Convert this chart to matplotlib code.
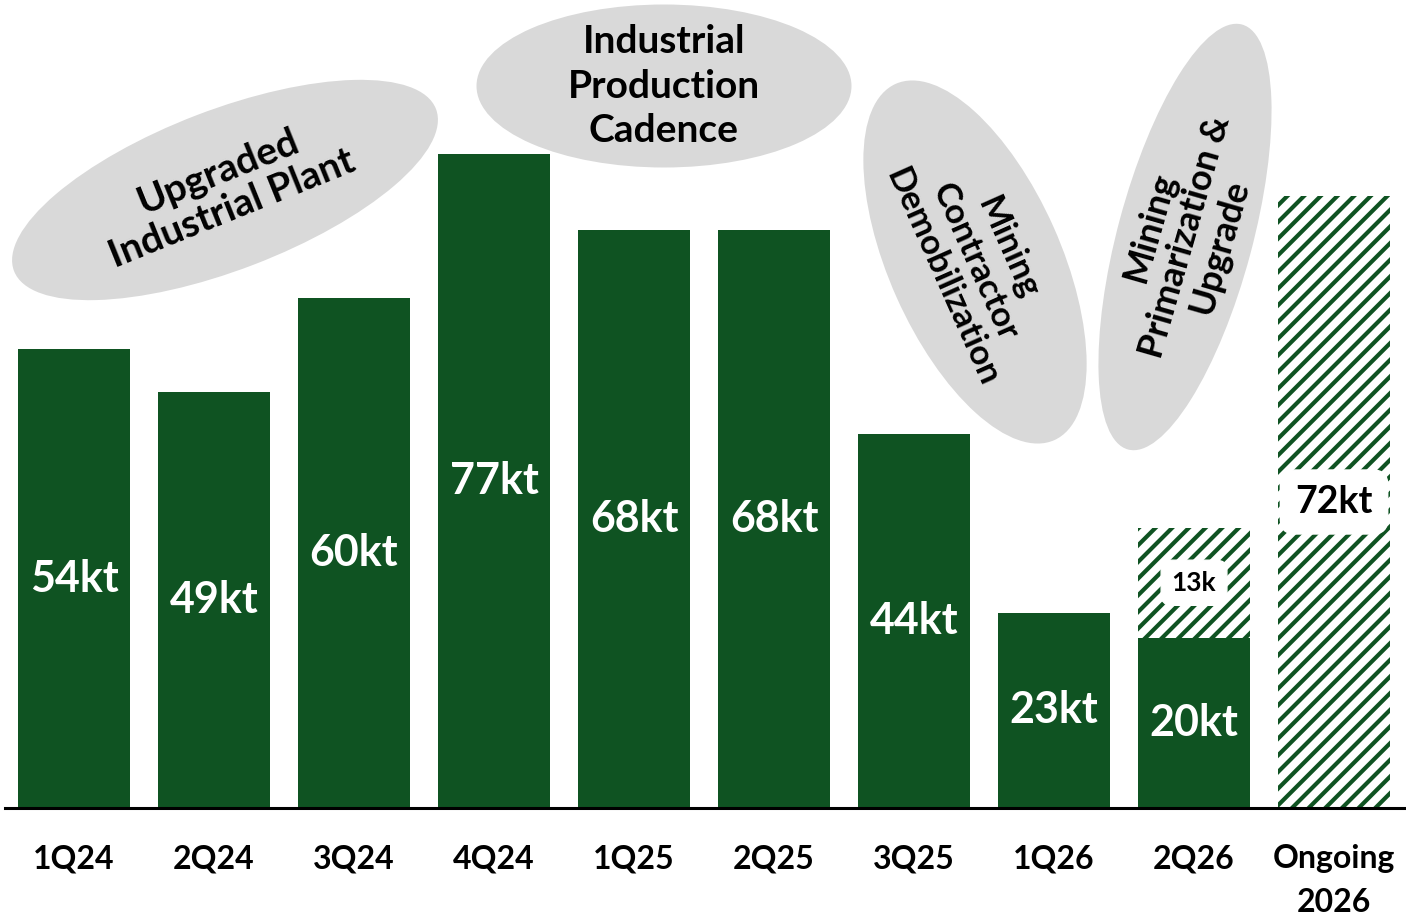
import matplotlib.pyplot as plt
import matplotlib
from matplotlib.patches import Ellipse

matplotlib.rcParams['font.family'] = ['Lato', 'DejaVu Sans']
matplotlib.rcParams['hatch.linewidth'] = 3.0

# quarterly production (kt)
quarters = ["1Q24", "2Q24", "3Q24", "4Q24", "1Q25", "2Q25", "3Q25", "1Q26", "2Q26", "Ongoing\n2026"]
actual = [54, 49, 60, 77, 68, 68, 44, 23, 20, 0]
planned = [0, 0, 0, 0, 0, 0, 0, 0, 13, 72]
actual_labels = ["54kt", "49kt", "60kt", "77kt", "68kt", "68kt", "44kt", "23kt", "20kt", ""]
planned_labels = ["", "", "", "", "", "", "", "", "13k", "72kt"]

green = "#0f5322"
grey = "#d9d9d9"

fig = plt.figure(figsize=(14.06, 9.18), dpi=100)
ax = fig.add_axes([5 / 1406, 110 / 918, 1401 / 1406, 808 / 918])

x = list(range(len(quarters)))
ax.bar(x, actual, width=0.8, color=green, linewidth=0)
ax.bar(x, planned, width=0.8, bottom=actual, color="white", edgecolor=green,
       hatch="//", linewidth=0)

for i in x:
    if actual_labels[i]:
        ax.text(i, actual[i] / 2, actual_labels[i], ha="center", va="center",
                color="white", fontsize=31, fontweight="bold")
    if planned_labels[i]:
        big = planned[i] > 50
        ax.text(i, actual[i] + planned[i] / 2, planned_labels[i], ha="center", va="center",
                color="black", fontsize=27 if big else 19, fontweight="bold",
                bbox=dict(boxstyle="round,pad=0.4", fc="white", ec="white"))

ax.set_xlim(-0.493, 9.514)
ax.set_ylim(0, 95.06)
ax.set_xticks(x)
ax.set_xticklabels(quarters, fontsize=23, fontweight="bold", linespacing=1.6)
ax.tick_params(axis="x", length=0, pad=26)
ax.set_yticks([])
for s in ["top", "left", "right"]:
    ax.spines[s].set_visible(False)
ax.spines["bottom"].set_linewidth(2.2)
ax.patch.set_alpha(0)

# callout bubbles drawn in pixel space over the bars
ov = fig.add_axes([0, 0, 1, 1], zorder=5)
ov.set_xlim(0, 1406)
ov.set_ylim(0, 918)
ov.axis("off")
ov.patch.set_alpha(0)

bubbles = [
    ((225, 918 - 190), 452, 160, 21, "Upgraded\nIndustrial Plant", 22, 28, 1.12),
    ((664, 918 - 86), 375, 163, 0, "Industrial\nProduction\nCadence", 0, 28, 1.32),
    ((975, 918 - 262), 390, 172, -66, "Mining\nContractor\nDemobilization", -66, 25, 1.15),
    ((1185, 918 - 237), 440, 135, 75, "Mining\nPrimarization &\nUpgrade", 74, 26, 1.12),
]
for (cx, cy), w, h, ang, txt, rot, fs, ls in bubbles:
    ov.add_patch(Ellipse((cx, cy), w, h, angle=ang, facecolor=grey, edgecolor="none"))
    ov.text(cx, cy, txt, ha="center", va="center", rotation=rot, rotation_mode="anchor",
            fontsize=fs, fontweight="bold", color="black", linespacing=ls)

fig.savefig("out.png", dpi=100)
